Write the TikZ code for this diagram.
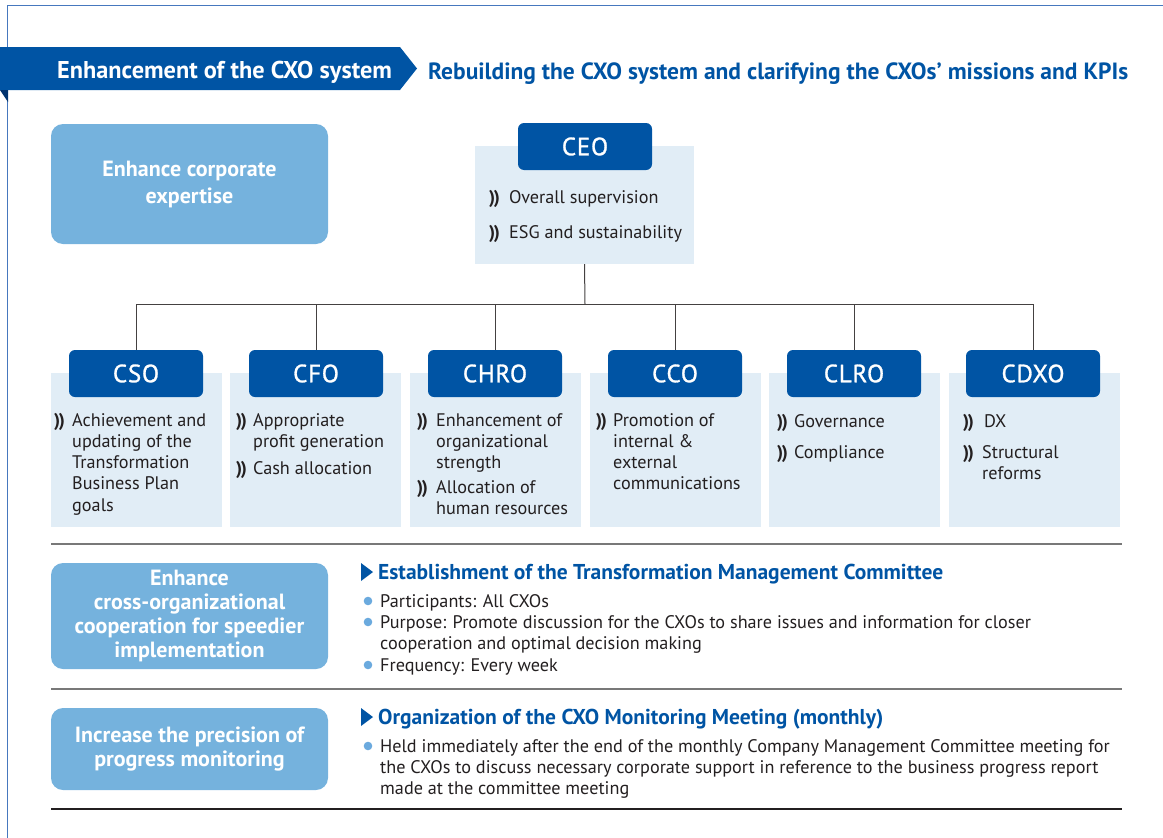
\documentclass[tikz,border=0pt]{standalone}
\usepackage{fontspec}
\setmainfont{PT Sans}
\newfontfamily\medfont[FakeBold=1.1,LetterSpace=3]{PT Sans}
\definecolor{dblue}{RGB}{0,84,164}
\definecolor{navy}{RGB}{0,50,110}
\definecolor{lblue}{RGB}{117,178,221}
\definecolor{bgblue}{RGB}{225,237,246}
\definecolor{dotblue}{RGB}{107,170,222}
\definecolor{framec}{RGB}{70,120,190}
\definecolor{txt}{RGB}{35,31,32}
\definecolor{rule}{RGB}{120,120,120}
\tikzset{
  bgbox/.style={fill=bgblue,draw=none},
  cxo/.style={fill=dblue,draw=none,rounded corners=6pt,text=white,font=\medfont\fontsize{25}{28}\selectfont,inner sep=0pt},
  goal/.style={fill=lblue,draw=none,rounded corners=12pt,text=white,font=\bfseries\fontsize{22}{24}\selectfont,align=center,inner sep=0pt},
  body/.style={text=txt,font=\fontsize{18.2}{21}\selectfont,inner sep=0pt,anchor=base west},
  chev/.style={text=txt,font=\bfseries\fontsize{18.5}{21}\selectfont,inner sep=0pt,anchor=base west},
  head/.style={text=dblue,font=\bfseries\fontsize{21.5}{24}\selectfont,inner sep=0pt,anchor=base west},
  conn/.style={draw=txt!85,line width=1pt},
  sep/.style={draw=rule,line width=1.3pt},
}
\newcommand\chevs{)\kern-1.5pt)}
\begin{document}
\begin{tikzpicture}[x=1pt,y=-1pt]
\useasboundingbox (0,0) rectangle (1163,838);
% frame
\draw[framec,line width=1pt] (7.5,838) -- (7.5,5.5) -- (1163,5.5);
% banner
\fill[dblue] (0,47) -- (400,47) -- (417,68.5) -- (400,90) -- (0,90) -- cycle;
\fill[navy] (0,90) -- (8,90) -- (8,102) -- cycle;
\node[text=white,font=\bfseries\fontsize{24.3}{26}\selectfont,inner sep=0pt,anchor=base west] (h1) at (57,78) {Enhancement of the CXO system};
\node[text=dblue,font=\bfseries\fontsize{23.5}{26}\selectfont,inner sep=0pt,anchor=base west] (h2) at (428,79) {Rebuilding the CXO system and clarifying the CXOs’ missions and KPIs};
% goal boxes
\node[goal,font=\bfseries\fontsize{22}{27}\selectfont,minimum width=277pt,minimum height=120pt] (g1) at (189.5,184) {Enhance corporate\\expertise};
\node[goal,minimum width=277pt,minimum height=106pt] (g2) at (189.5,616) {Enhance\\cross-organizational\\cooperation for speedier\\implementation};
\node[goal,minimum width=277pt,minimum height=82pt] (g3) at (189.5,749) {Increase the precision of\\progress monitoring};
% CEO
\node[bgbox,minimum width=219pt,minimum height=118pt,inner sep=0pt] (ceobg) at (584.5,205) {};
\node[cxo,minimum width=134pt,minimum height=47pt] (ceo) at (585,146.5) {CEO};
\node[chev] (ceoc1) at (489,203) {\chevs};
\node[body] (ceot1) at (509,203) {Overall supervision};
\node[chev] (ceoc2) at (489,238) {\chevs};
\node[body] (ceot2) at (509,238) {ESG and sustainability};
% CXO columns
\foreach \n/\bx in {cso/51,cfo/230,chro/410,cco/590,clro/769,cdxo/949}{
  \node[bgbox,minimum width=171pt,minimum height=154pt,inner sep=0pt,anchor=north west] (\n bg) at (\bx,373) {};
}
\node[cxo,minimum width=134pt,minimum height=47pt] (cso) at (136,373.5) {CSO};
\node[cxo,minimum width=134pt,minimum height=47pt] (cfo) at (316,373.5) {CFO};
\node[cxo,minimum width=134pt,minimum height=47pt] (chro) at (495,373.5) {CHRO};
\node[cxo,minimum width=134pt,minimum height=47pt] (cco) at (675,373.5) {CCO};
\node[cxo,minimum width=134pt,minimum height=47pt] (clro) at (854,373.5) {CLRO};
\node[cxo,minimum width=134pt,minimum height=47pt] (cdxo) at (1033,373.5) {CDXO};
% connectors
\coordinate (bus) at (585,304);
\draw[conn] (ceobg.south) -- (bus);
\foreach \n in {cso,cfo,chro,cco,clro,cdxo}{\draw[conn] (\n.north) |- (bus);}
% CSO text
\node[chev] (csoc1) at (54,426) {\chevs};
\node[body] (csot1) at (72,426) {Achievement and};
\node[body] (csot2) at (72,447.3) {updating of the};
\node[body] (csot3) at (72,468.6) {Transformation};
\node[body] (csot4) at (72,489.9) {Business Plan};
\node[body] (csot5) at (72,511.2) {goals};
% CFO text
\node[chev] (cfoc1) at (236,426) {\chevs};
\node[body] (cfot1) at (253,426) {Appropriate};
\node[body] (cfot2) at (253,447.3) {profit generation};
\node[chev] (cfoc2) at (236,474) {\chevs};
\node[body] (cfot3) at (253,474) {Cash allocation};
% CHRO text
\node[chev] (chroc1) at (417,426) {\chevs};
\node[body] (chrot1) at (436,426) {Enhancement of};
\node[body] (chrot2) at (436,447.3) {organizational};
\node[body] (chrot3) at (436,468.6) {strength};
\node[chev] (chroc2) at (417,493) {\chevs};
\node[body] (chrot4) at (436,493) {Allocation of};
\node[body] (chrot5) at (436,514.3) {human resources};
% CCO text
\node[chev] (ccoc1) at (596,426) {\chevs};
\node[body] (ccot1) at (613,426) {Promotion of};
\node[body] (ccot2) at (613,447.3) {internal \&};
\node[body] (ccot3) at (613,468.6) {external};
\node[body] (ccot4) at (613,489.9) {communications};
% CLRO text
\node[chev] (clroc1) at (777,427) {\chevs};
\node[body] (clrot1) at (794,427) {Governance};
\node[chev] (clroc2) at (777,458) {\chevs};
\node[body] (clrot2) at (794,458) {Compliance};
% CDXO text
\node[chev] (cdxoc1) at (963,427) {\chevs};
\node[body] (cdxot1) at (984,427) {DX};
\node[chev] (cdxoc2) at (963,458) {\chevs};
\node[body] (cdxot2) at (982,458) {Structural};
\node[body] (cdxot3) at (982,479.3) {reforms};
% separators
\coordinate (s1a) at (51,544); \coordinate (s1b) at (1122,544);
\coordinate (s2a) at (51,689); \coordinate (s2b) at (1122,689);
\coordinate (s3a) at (51,809); \coordinate (s3b) at (1122,809);
\draw[sep] (s1a) -- (s1b);
\draw[sep] (s2a) -- (s2b);
\draw[txt,line width=1.3pt] (s3a) -- (s3b);
% section 2
\fill[dblue] (361,563) -- (373,572) -- (361,581) -- cycle;
\node[head] (hd1) at (378,579) {Establishment of the Transformation Management Committee};
\foreach \yy in {601,622,665}{\fill[dotblue] (368,\yy) circle (4.3pt);}
\node[body] (b1) at (380,607) {Participants: All CXOs};
\node[body] (b2) at (380,628) {Purpose: Promote discussion for the CXOs to share issues and information for closer};
\node[body] (b3) at (380,649) {cooperation and optimal decision making};
\node[body] (b4) at (380,671) {Frequency: Every week};
% section 3
\fill[dblue] (361,708) -- (373,717) -- (361,726) -- cycle;
\node[head] (hd2) at (378,724) {Organization of the CXO Monitoring Meeting (monthly)};
\fill[dotblue] (368,746) circle (4.3pt);
\node[body] (c1) at (380,752) {Held immediately after the end of the monthly Company Management Committee meeting for};
\node[body] (c2) at (380,773) {the CXOs to discuss necessary corporate support in reference to the business progress report};
\node[body] (c3) at (380,794) {made at the committee meeting};
\end{tikzpicture}
\end{document}
